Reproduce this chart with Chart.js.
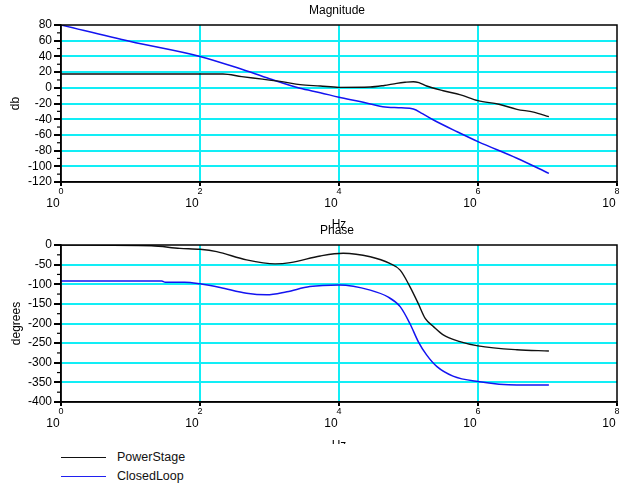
<!DOCTYPE html>
<html>
<head>
<meta charset="utf-8">
<script src="https://cdn.jsdelivr.net/npm/chart.js@4.4.1/dist/chart.umd.min.js"></script>
<style>
  body { margin: 0; background: #fff; width: 622px; height: 484px; overflow: hidden; position: relative;
         font-family: "Liberation Sans", Arial, sans-serif; }
  canvas { position: absolute; left: 0; }
  #mag { top: 0; }
  #phase { top: 215px; }
  .legend { position: absolute; left: 61px; height: 16px; line-height: 16px; font-size: 12.5px; color: #111; white-space: nowrap; }
  .legend .line { display: inline-block; width: 45px; height: 0; border-top: 1.5px solid; vertical-align: middle; margin-right: 11px; }
</style>
</head>
<body>
<canvas id="mag" width="622" height="232"></canvas>
<canvas id="phase" width="622" height="229"></canvas>
<div class="legend" style="top:449px"><span class="line" style="border-color:#111"></span>PowerStage</div>
<div class="legend" style="top:468px"><span class="line" style="border-color:#2020f0"></span>ClosedLoop</div>
<script>
// x values are decades: log10(Hz)
const xTicks = [0, 2, 4, 6, 8];

// Magnitude (dB)
const powerMagX = [0, 1, 2, 2.33, 2.6, 2.9, 3.2, 3.44, 3.73, 4.0, 4.45, 4.65, 4.83, 4.95, 5.07, 5.15, 5.26, 5.5, 5.75, 6.0, 6.3, 6.56, 6.8, 7.02];
const powerMagY = [17.5, 17.5, 17.5, 17.5, 14.2, 11, 7.5, 4, 2.3, 0.6, 1, 3, 5.7, 7, 7.8, 6.5, 2.3, -3.7, -9, -16.4, -21, -27.4, -31, -36.8];
const closedMagX = [0, 1, 2, 2.57, 3.0, 3.44, 3.73, 4.0, 4.3, 4.63, 4.9, 5.07, 5.2, 5.36, 5.7, 6.0, 6.56, 7.02];
const closedMagY = [80, 59, 40, 24.5, 11.5, -0.7, -6.2, -12, -17.5, -24, -25.5, -27, -33, -41, -56, -68.6, -89.8, -109];
const magMinor = [70, 50, 30, 10, -10, -30, -50, -70, -90, -110];

// Phase (degrees)
const powerPhX = [0, 1.3, 1.71, 2.0, 2.24, 2.67, 3.08, 3.3, 3.73, 4.06, 4.45, 4.73, 4.88, 5.02, 5.14, 5.24, 5.36, 5.5, 5.74, 6.0, 6.56, 7.02];
const powerPhY = [0, -2, -8.5, -11, -17, -38, -48, -45, -28, -21, -30, -47, -64, -106, -149, -187, -208, -229, -246, -257, -267, -270];
const closedPhX = [0, 1.45, 1.5, 1.78, 2.0, 2.29, 2.67, 2.96, 3.25, 3.58, 4.0, 4.45, 4.71, 4.88, 5.02, 5.14, 5.26, 5.41, 5.64, 6.0, 6.56, 7.02];
const closedPhY = [-92, -92, -95, -95, -99, -108, -123, -127, -119, -106, -102, -115, -133, -157, -200, -246, -280, -310, -334, -348, -357, -357];
const phaseMinor = [-25, -75, -125, -175, -225, -275, -325, -375];

const FONT = "'Liberation Sans', Arial, sans-serif";
const CYAN = '#12eef6';
Chart.defaults.font.family = FONT;
Chart.defaults.color = '#000';

const pts = (xs, ys) => xs.map((x, i) => ({ x: x, y: ys[i] }));

// box, minor ticks, title and 10^n labels
const framePlugin = {
  id: 'frame',
  afterDraw(chart, args, opts) {
    const { ctx, chartArea: a, scales } = chart;
    ctx.save();
    ctx.strokeStyle = '#000';
    ctx.lineWidth = 1.2;
    opts.minor.forEach(v => {
      const y = scales.y.getPixelForValue(v);
      ctx.beginPath(); ctx.moveTo(a.left - 4, y); ctx.lineTo(a.left, y); ctx.stroke();
    });
    ctx.lineWidth = 1.5;
    ctx.strokeRect(a.left, a.top, a.right - a.left, a.bottom - a.top);

    ctx.fillStyle = '#000';
    ctx.textAlign = 'center';
    ctx.textBaseline = 'middle';
    ctx.font = '12px ' + FONT;
    ctx.fillText(opts.title, (a.left + a.right) / 2 - 2, a.top - 14);
    xTicks.forEach(v => {
      const x = scales.x.getPixelForValue(v);
      ctx.font = '9px ' + FONT;
      ctx.fillText(String(v), x, a.bottom + 10);
      ctx.font = '12px ' + FONT;
      ctx.fillText('10', x - 8, a.bottom + 22);
    });
    ctx.restore();
  }
};

function makeChart(id, cfg) {
  const edge = (min, max) => c => (c.tick && (c.tick.value === min || c.tick.value === max)) ? 'rgba(0,0,0,0)' : CYAN;
  return new Chart(document.getElementById(id), {
    type: 'line',
    data: {
      datasets: [
        { label: 'PowerStage', data: cfg.power, borderColor: '#111', borderWidth: 1.4, pointRadius: 0, cubicInterpolationMode: 'monotone' },
        { label: 'ClosedLoop', data: cfg.closed, borderColor: '#1414f0', borderWidth: 1.5, pointRadius: 0, cubicInterpolationMode: 'monotone' }
      ]
    },
    options: {
      responsive: false,
      animation: false,
      layout: { padding: { top: cfg.padTop, left: 0, right: 5, bottom: 0 } },
      plugins: {
        legend: { display: false },
        tooltip: { enabled: false },
        frame: { title: cfg.title, minor: cfg.minor }
      },
      scales: {
        x: {
          type: 'linear', min: 0, max: 8,
          ticks: { stepSize: 2, display: false, autoSkip: false },
          grid: { color: edge(0, 8), lineWidth: 2, tickColor: '#000', tickLength: 4 },
          border: { color: '#000', width: 1.5 },
          title: { display: true, text: 'Hz', font: { size: 12 }, padding: { top: 0, bottom: cfg.hzPad } },
          afterFit: s => { s.height = cfg.xHeight; }
        },
        y: {
          min: cfg.yMin, max: cfg.yMax,
          ticks: { stepSize: cfg.yStep, autoSkip: false, padding: 2, font: { size: 12 }, color: '#000' },
          grid: { color: edge(cfg.yMin, cfg.yMax), lineWidth: 2, tickColor: '#000', tickLength: 7 },
          border: { color: '#000', width: 1.5 },
          title: { display: true, text: cfg.yTitle, font: { size: 12 }, padding: { top: cfg.yTitlePad, bottom: 0 } },
          afterFit: s => { s.width = 61; }
        }
      }
    },
    plugins: [framePlugin]
  });
}

makeChart('mag', {
  title: 'Magnitude', yTitle: 'db', yTitlePad: 8,
  yMin: -120, yMax: 80, yStep: 20, minor: magMinor,
  padTop: 25, xHeight: 50, hzPad: 0,
  power: pts(powerMagX, powerMagY), closed: pts(closedMagX, closedMagY)
});

makeChart('phase', {
  title: 'Phase', yTitle: 'degrees', yTitlePad: 9.5,
  yMin: -400, yMax: 0, yStep: 50, minor: phaseMinor,
  padTop: 30, xHeight: 42, hzPad: -8.7,
  power: pts(powerPhX, powerPhY), closed: pts(closedPhX, closedPhY)
});
</script>
</body>
</html>
